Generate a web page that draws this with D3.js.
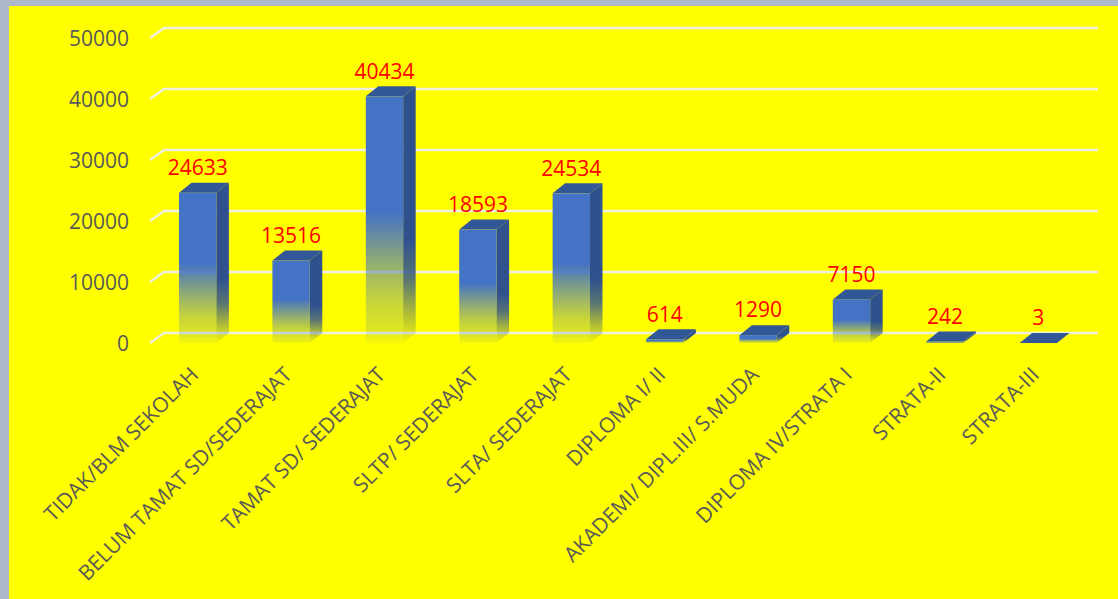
<!DOCTYPE html>
<html>
<head>
<meta charset="utf-8">
<script src="https://cdnjs.cloudflare.com/ajax/libs/d3/7.8.5/d3.min.js"></script>
<style>
  html, body { margin: 0; padding: 0; background: #adb9ca; overflow: hidden; }
  svg { display: block; font-family: "Open Sans", sans-serif; }
</style>
</head>
<body>
<div id="chart"></div>
<script>
var categories = ["TIDAK/BLM SEKOLAH", "BELUM TAMAT SD/SEDERAJAT", "TAMAT SD/ SEDERAJAT",
  "SLTP/ SEDERAJAT", "SLTA/ SEDERAJAT", "DIPLOMA I/ II", "AKADEMI/ DIPL.III/ S.MUDA",
  "DIPLOMA IV/STRATA I", "STRATA-II", "STRATA-III"];
var values = [24633, 13516, 40434, 18593, 24534, 614, 1290, 7150, 242, 3];
var yTicks = [0, 10000, 20000, 30000, 40000, 50000];

var width = 1118, height = 599,
    depthX = 12.5, depthY = 10; // the fake 3d offset

var svg = d3.select("#chart").append("svg")
    .attr("width", width)
    .attr("height", height);

svg.append("rect")
    .attr("x", 9).attr("y", 6)
    .attr("width", width - 9).attr("height", height - 6)
    .style("fill", "#ffff00");

var x = d3.scaleBand().domain(categories).range([151, 1085]).paddingInner(0.6).paddingOuter(0.3);
var y = d3.scaleLinear().domain([0, 50000]).range([343, 38]);

// bars go see-through towards the base, the gridlines show through them
var defs = svg.append("defs");
function fade(id, color, stops) {
  var g = defs.append("linearGradient").attr("id", id)
      .attr("x1", 0).attr("y1", 0).attr("x2", 0).attr("y2", 1);
  stops.forEach(function(s) {
    g.append("stop").attr("offset", s[0]).attr("stop-color", color).attr("stop-opacity", s[1]);
  });
}
fade("frontFade", "#4472c4", [["0%", 1], ["47%", 1], ["72%", 0.5], ["83%", 0.3], ["95%", 0.17], ["100%", 0.05]]);
fade("sideFade", "#2f528f", [["0%", 1], ["60%", 1], ["75%", 0.8], ["88%", 0.4], ["100%", 0.05]]);

// gridlines with the little slanted foot
svg.append("g").selectAll("path.grid").data(yTicks).enter().append("path")
    .attr("class", "grid")
    .attr("d", function(d) {
      var p = d3.path();
      p.moveTo(150, y(d));
      p.lineTo(164, y(d) - depthY);
      p.lineTo(1098, y(d) - depthY);
      return p.toString();
    })
    .style("fill", "none")
    .style("stroke", "#f0f0e0")
    .style("stroke-width", 2.4);

// y axis labels
var yAxis = d3.axisLeft(y).tickValues(yTicks).tickSize(0).tickPadding(0).tickFormat(d3.format("d"));
var yG = svg.append("g").attr("transform", "translate(129,1)").call(yAxis);
yG.select(".domain").remove();
yG.selectAll("text")
    .style("font-family", '"Open Sans", sans-serif')
    .style("font-size", "21px")
    .style("fill", "#595959");

var rows = d3.zip(categories, values);
var bars = svg.append("g").selectAll("g.bar").data(rows).enter().append("g").attr("class", "bar");

// side face
bars.append("path")
    .attr("d", function(d) {
      var x1 = x(d[0]) + x.bandwidth(), t = y(d[1]), b = y(0);
      return "M" + x1 + "," + t + "L" + (x1 + depthX) + "," + (t - depthY) +
             "L" + (x1 + depthX) + "," + (b - depthY) + "L" + x1 + "," + b + "Z";
    })
    .style("fill", "url(#sideFade)");

// top face
bars.append("path")
    .attr("d", function(d) {
      var x0 = x(d[0]), x1 = x0 + x.bandwidth(), t = y(d[1]);
      return "M" + x0 + "," + t + "L" + (x0 + depthX) + "," + (t - depthY) +
             "L" + (x1 + depthX) + "," + (t - depthY) + "L" + x1 + "," + t + "Z";
    })
    .style("fill", "#325797");

// front face
bars.append("rect")
    .attr("x", function(d) { return x(d[0]); })
    .attr("y", function(d) { return y(d[1]); })
    .attr("width", x.bandwidth())
    .attr("height", function(d) { return y(0) - y(d[1]); })
    .style("fill", "url(#frontFade)");

// value labels
svg.append("g").selectAll("text").data(rows).enter().append("text")
    .attr("x", function(d) { return x(d[0]) + x.bandwidth() / 2; })
    .attr("y", function(d) { return y(d[1]) - 25; })
    .attr("dy", "0.35em")
    .attr("text-anchor", "middle")
    .style("font-size", "21px")
    .style("fill", "#ff0000")
    .text(function(d) { return d[1]; });

// rotated category labels
svg.append("g").selectAll("text").data(categories).enter().append("text")
    .attr("transform", function(d) {
      return "translate(" + (x(d) + x.bandwidth() / 2 + 2) + ",376) rotate(-45)";
    })
    .attr("text-anchor", "end")
    .style("font-size", "21px")
    .style("fill", "#595959")
    .text(function(d) { return d; });
</script>
</body>
</html>
